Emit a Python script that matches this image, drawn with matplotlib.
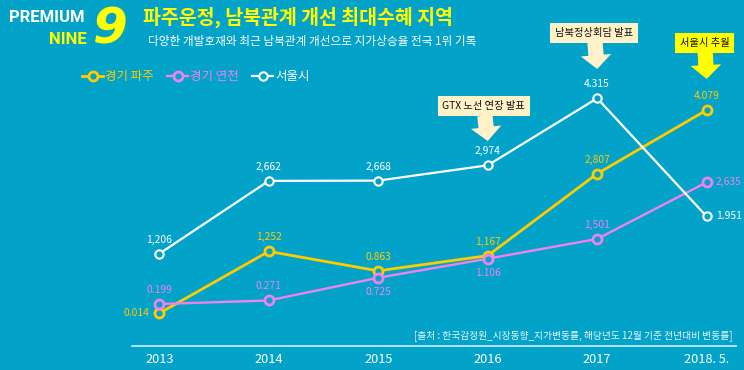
import matplotlib
matplotlib.use("Agg")
import matplotlib.pyplot as plt
from matplotlib.lines import Line2D

plt.rcParams['font.family'] = ['Noto Sans CJK KR', 'DejaVu Sans']

# data: 지가상승률 (%)
years = ['2013', '2014', '2015', '2016', '2017', '2018. 5.']
paju = [0.014, 1.252, 0.863, 1.167, 2.807, 4.079]
yeoncheon = [0.199, 0.271, 0.725, 1.106, 1.501, 2.635]
seoul = [1.206, 2.662, 2.668, 2.974, 4.315, 1.951]

paju_labels = ['0.014', '1,252', '0.863', '1,167', '2,807', '4.079']
yeoncheon_labels = ['0.199', '0.271', '0.725', '1.106', '1,501', '2,635']
seoul_labels = ['1,206', '2,662', '2,668', '2,974', '4.315', '1.951']

# label placement per point: a=above, b=below, r=right, l=left
paju_pos = ['l', 'a', 'a', 'a', 'a', 'a']
yeoncheon_pos = ['a', 'a', 'b', 'b', 'a', 'r']
seoul_pos = ['a', 'a', 'a', 'a', 'a', 'r']

BG = '#03A2C8'
YEL = '#FFCC00'
PINK = '#EE82EE'
WHITE = '#FFFFFF'

fig = plt.figure(figsize=(7.44, 3.70), dpi=100, facecolor=BG)
W, H = 744, 370

# axes placed so the bottom spine is the light baseline
ax = fig.add_axes([132 / W, 24.3 / H, 604 / W, 325.7 / H])
ax.set_facecolor('none')
ax.set_xlim(-0.249, 5.268)
ax.set_ylim(-0.634, 5.88)

series = [
    ('경기 파주', paju, paju_labels, paju_pos, YEL, 2.0, 6.5, 2.0),
    ('경기 연천', yeoncheon, yeoncheon_labels, yeoncheon_pos, PINK, 1.7, 6.5, 2.0),
    ('서울시', seoul, seoul_labels, seoul_pos, WHITE, 1.6, 6.0, 1.5),
]

x = list(range(len(years)))
handles = []
for name, vals, labs, poss, col, lw, ms, mew in series:
    ax.plot(x, vals, color=col, lw=lw, marker='o', ms=ms, mfc=BG, mec=col, mew=mew,
            zorder=3)
    handles.append(Line2D([], [], color=col, lw=lw, marker='o', ms=ms, mfc=BG,
                          mec=col, mew=mew, label=name))
    for xi, v, t, p in zip(x, vals, labs, poss):
        if p == 'a':
            off, ha, va = (0, 14), 'center', 'center'
        elif p == 'b':
            off, ha, va = (0, -14), 'center', 'center'
        elif p == 'r':
            off, ha, va = (9, 0), 'left', 'center'
        else:
            off, ha, va = (-10, 0), 'right', 'center'
        ax.annotate(t, (xi, v), xytext=off, textcoords='offset pixels',
                    ha=ha, va=va, fontsize=7.4, color=col, zorder=4)

for s in ['top', 'left', 'right']:
    ax.spines[s].set_visible(False)
ax.spines['bottom'].set_color('#BFE9F5')
ax.spines['bottom'].set_linewidth(1.3)
ax.set_yticks([])
ax.set_xticks(x)
ax.set_xticklabels(years, color=WHITE, fontsize=9.2)
ax.tick_params(axis='x', length=0, pad=5)

# callout boxes with block arrows
callouts = [
    ('GTX 노선 연장 발표', 3, 3.46, '#FFF1C8', (-4, 35)),
    ('남북정상회담 발표', 4, 4.90, '#FFF1C8', (-3, 36)),
    ('서울시 추월', 5, 4.70, '#FFFF00', (-2, 36)),
]
for txt, xi, yv, fc, off in callouts:
    ax.annotate(txt, (xi, yv), xytext=off, textcoords='offset pixels',
                ha='center', va='center', fontsize=7.4, color='#111111',
                bbox=dict(boxstyle='square,pad=0.45', fc=fc, ec='none'),
                arrowprops=dict(arrowstyle='simple,head_length=1.0,head_width=2.2,tail_width=1.1',
                                fc=fc, ec='none', shrinkA=0, shrinkB=0, mutation_scale=10),
                zorder=5)

# legend
fig.legend(handles=handles, loc='center left', bbox_to_anchor=(82 / W, 1 - 76.7 / H),
           ncol=3, frameon=False, fontsize=9, handlelength=1.7, handletextpad=0.15,
           columnspacing=1.05, labelcolor='linecolor', borderpad=0, borderaxespad=0)

# header
fig.text(84 / W, 1 - 18 / H, 'PREMIUM', color=WHITE, fontsize=12, fontweight='bold',
         ha='right', va='center', family='Roboto')
fig.text(87 / W, 1 - 39 / H, 'NINE', color='#FFFF00', fontsize=12, fontweight='bold',
         ha='right', va='center', family='Roboto')
fig.text(110 / W, 1 - 29 / H, '9', color='#FFFF00', fontsize=36, fontweight='bold',
         style='italic', ha='center', va='center', family='DejaVu Sans')
fig.text(143 / W, 1 - 17 / H, '파주운정, 남북관계 개선 최대수혜 지역', color='#FFFF00',
         fontsize=14, fontweight='bold', ha='left', va='center')
fig.text(148 / W, 1 - 42 / H, '다양한 개발호재와 최근 남북관계 개선으로 지가상승율 전국 1위 기록',
         color=WHITE, fontsize=8.4, ha='left', va='center')

# source note
fig.text(733 / W, 1 - 336 / H, '[출처 : 한국감정원_시장동향_지가변동률, 해당년도 12월 기준 전년대비 변동률]',
         color='#E8F7FB', fontsize=7.0, ha='right', va='center')

fig.savefig('out.png', dpi=100, facecolor=BG)
